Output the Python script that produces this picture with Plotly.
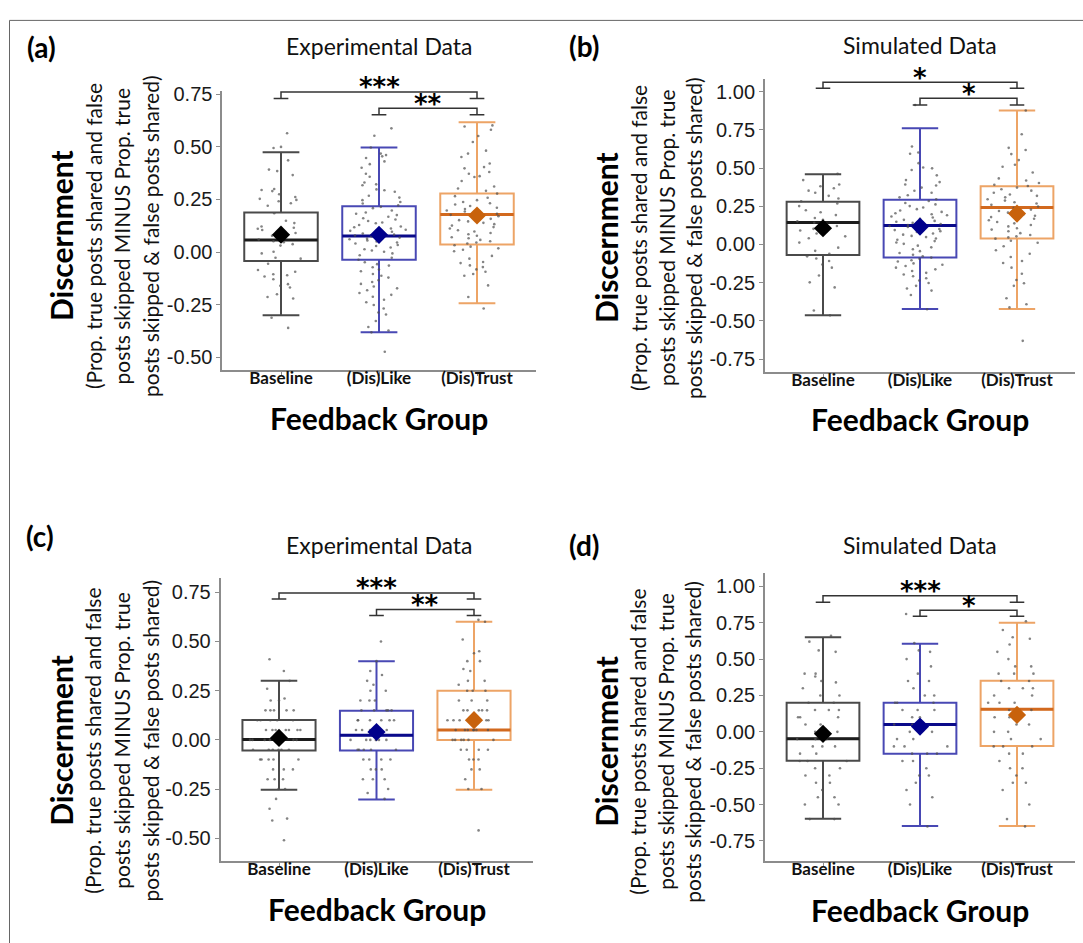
import plotly.graph_objects as go

W, H = 1083, 943

categories = ["Baseline", "(Dis)Like", "(Dis)Trust"]

# ---------------- Box statistics per panel (Baseline, (Dis)Like, (Dis)Trust) ----------------
a_q1 = [-0.042, -0.036, 0.036]
a_med = [0.058, 0.077, 0.179]
a_q3 = [0.188, 0.218, 0.278]
a_lo = [-0.300, -0.381, -0.243]
a_hi = [0.475, 0.497, 0.617]
a_mean = [0.083, 0.082, 0.174]

b_q1 = [-0.069, -0.085, 0.039]
b_med = [0.143, 0.124, 0.241]
b_q3 = [0.280, 0.293, 0.380]
b_lo = [-0.464, -0.423, -0.423]
b_hi = [0.460, 0.761, 0.876]
b_mean = [0.106, 0.117, 0.202]

c_q1 = [-0.054, -0.054, 0.000]
c_med = [0.002, 0.024, 0.050]
c_q3 = [0.101, 0.148, 0.250]
c_lo = [-0.253, -0.303, -0.253]
c_hi = [0.300, 0.400, 0.600]
c_mean = [0.010, 0.040, 0.100]

d_q1 = [-0.198, -0.150, -0.098]
d_med = [-0.048, 0.050, 0.155]
d_q3 = [0.200, 0.200, 0.352]
d_lo = [-0.598, -0.648, -0.648]
d_hi = [0.650, 0.605, 0.750]
d_mean = [-0.014, 0.036, 0.116]

# ---------------- Individual participant values (read approximately) ----------------
a_base = [0.565, 0.50, 0.495, 0.436, 0.392, 0.385, 0.366, 0.30, 0.295, 0.29, 0.275, 0.262, 0.253,
          0.248, 0.242, 0.232, 0.22, 0.185, 0.149, 0.138, 0.122, 0.116, 0.111, 0.105, 0.097, 0.091,
          0.078, 0.067, 0.06, 0.052, 0.047, 0.038, 0.031, 0.002, -0.006, -0.027, -0.031, -0.055,
          -0.085, -0.093, -0.105, -0.11, -0.116, -0.129, -0.152, -0.16, -0.168, -0.2, -0.213, -0.22,
          -0.312, -0.36]
a_like = [0.588, 0.553, 0.497, 0.468, 0.461, 0.455, 0.447, 0.431, 0.418, 0.401, 0.372, 0.358, 0.331,
          0.322, 0.318, 0.298, 0.294, 0.287, 0.268, 0.259, 0.247, 0.238, 0.231, 0.222, 0.215, 0.209,
          0.198, 0.188, 0.182, 0.176, 0.168, 0.161, 0.155, 0.148, 0.141, 0.137, 0.129, 0.122, 0.118,
          0.112, 0.106, 0.101, 0.097, 0.092, 0.088, 0.083, 0.079, 0.074, 0.069, 0.064, 0.061, 0.055,
          0.051, 0.046, 0.041, 0.034, 0.029, 0.022, 0.014, 0.008, 0.002, -0.006, -0.015, -0.027,
          -0.036, -0.048, -0.057, -0.064, -0.072, -0.083, -0.091, -0.104, -0.112, -0.121, -0.133,
          -0.142, -0.151, -0.163, -0.172, -0.181, -0.194, -0.203, -0.212, -0.226, -0.238, -0.251,
          -0.268, -0.287, -0.296, -0.327, -0.356, -0.372, -0.381, -0.473]
a_trust = [0.602, 0.597, 0.581, 0.552, 0.523, 0.482, 0.468, 0.452, 0.421, 0.404, 0.398, 0.381, 0.372,
           0.361, 0.357, 0.338, 0.312, 0.302, 0.291, 0.278, 0.266, 0.258, 0.247, 0.238, 0.232, 0.226,
           0.219, 0.211, 0.205, 0.198, 0.193, 0.188, 0.182, 0.177, 0.171, 0.166, 0.158, 0.152, 0.146,
           0.139, 0.133, 0.126, 0.119, 0.112, 0.104, 0.098, 0.091, 0.085, 0.078, 0.071, 0.066, 0.058,
           0.052, 0.046, 0.041, 0.033, 0.026, 0.018, 0.011, 0.004, -0.018, -0.031, -0.047, -0.052,
           -0.063, -0.071, -0.082, -0.093, -0.104, -0.112, -0.158, -0.213, -0.268]

b_base = [0.462, 0.421, 0.392, 0.381, 0.368, 0.352, 0.338, 0.318, 0.301, 0.283, 0.268, 0.251, 0.224,
          0.211, 0.192, 0.173, 0.162, 0.151, 0.142, 0.133, 0.121, 0.112, 0.102, 0.091, 0.072, 0.053,
          0.041, 0.012, -0.021, -0.042, -0.061, -0.078, -0.092, -0.108, -0.131, -0.152, -0.203,
          -0.248, -0.281, -0.432, -0.464]
b_like = [0.912, 0.641, 0.602, 0.593, 0.532, 0.503, 0.498, 0.487, 0.452, 0.421, 0.408, 0.392, 0.386,
          0.372, 0.351, 0.338, 0.322, 0.308, 0.296, 0.284, 0.271, 0.262, 0.251, 0.242, 0.231, 0.222,
          0.213, 0.204, 0.198, 0.191, 0.183, 0.176, 0.168, 0.161, 0.154, 0.148, 0.141, 0.134, 0.127,
          0.121, 0.114, 0.108, 0.101, 0.094, 0.087, 0.081, 0.072, 0.064, 0.056, 0.048, 0.039, 0.031,
          0.022, 0.013, 0.004, -0.008, -0.019, -0.031, -0.044, -0.056, -0.067, -0.078, -0.086,
          -0.094, -0.103, -0.112, -0.124, -0.133, -0.141, -0.152, -0.163, -0.174, -0.186, -0.197,
          -0.208, -0.221, -0.236, -0.252, -0.271, -0.288, -0.302, -0.331, -0.424]
b_trust = [0.876, 0.721, 0.632, 0.618, 0.591, 0.552, 0.521, 0.508, 0.471, 0.432, 0.418, 0.402, 0.391,
           0.382, 0.372, 0.361, 0.352, 0.338, 0.327, 0.318, 0.308, 0.296, 0.287, 0.276, 0.268, 0.259,
           0.248, 0.239, 0.228, 0.219, 0.208, 0.198, 0.188, 0.179, 0.168, 0.158, 0.147, 0.138, 0.127,
           0.118, 0.106, 0.097, 0.086, 0.074, 0.062, 0.053, 0.046, 0.038, 0.024, 0.011, -0.012,
           -0.038, -0.061, -0.082, -0.108, -0.121, -0.152, -0.192, -0.233, -0.254, -0.271, -0.352,
           -0.391, -0.412, -0.631]

c_base = [0.41, 0.35, 0.30, 0.26, 0.21, 0.20, 0.20, 0.15, 0.15, 0.15, 0.15, 0.15, 0.10, 0.10, 0.10,
          0.10, 0.10, 0.05, 0.05, 0.05, 0.05, 0.05, 0.05, 0.05, 0.0, 0.0, 0.0, 0.0, 0.0, 0.0, 0.0,
          0.0, -0.05, -0.05, -0.05, -0.05, -0.05, -0.05, -0.10, -0.10, -0.10, -0.10, -0.10, -0.15,
          -0.15, -0.15, -0.20, -0.20, -0.20, -0.25, -0.25, -0.30, -0.35, -0.40, -0.41, -0.51]
c_like = [0.50, 0.40, 0.35, 0.33, 0.30, 0.28, 0.25, 0.25, 0.20, 0.20, 0.20, 0.15, 0.15, 0.15, 0.15,
          0.15, 0.10, 0.10, 0.10, 0.10, 0.10, 0.10, 0.05, 0.05, 0.05, 0.05, 0.05, 0.0, 0.0, 0.0, 0.0,
          0.0, 0.0, 0.0, -0.05, -0.05, -0.05, -0.05, -0.05, -0.10, -0.10, -0.10, -0.10, -0.15, -0.15,
          -0.15, -0.20, -0.20, -0.20, -0.25, -0.27, -0.30]
c_trust = [0.61, 0.60, 0.51, 0.45, 0.44, 0.40, 0.40, 0.36, 0.35, 0.30, 0.30, 0.28, 0.25, 0.25, 0.25,
           0.20, 0.20, 0.20, 0.15, 0.15, 0.15, 0.15, 0.15, 0.10, 0.10, 0.10, 0.10, 0.10, 0.10, 0.05,
           0.05, 0.05, 0.05, 0.05, 0.05, 0.05, 0.0, 0.0, 0.0, 0.0, 0.0, 0.0, -0.05, -0.05, -0.05,
           -0.05, -0.10, -0.10, -0.10, -0.15, -0.15, -0.20, -0.25, -0.25, -0.46]

d_base = [0.66, 0.62, 0.56, 0.55, 0.40, 0.40, 0.38, 0.35, 0.34, 0.30, 0.25, 0.25, 0.20, 0.20, 0.15,
          0.15, 0.15, 0.10, 0.10, 0.10, 0.05, 0.05, 0.0, 0.0, -0.05, -0.05, -0.05, -0.05, -0.10,
          -0.10, -0.10, -0.15, -0.15, -0.20, -0.20, -0.20, -0.25, -0.25, -0.30, -0.30, -0.35, -0.35,
          -0.40, -0.45, -0.45, -0.50, -0.50, -0.60, -0.60]
d_like = [0.81, 0.61, 0.56, 0.55, 0.50, 0.45, 0.40, 0.35, 0.35, 0.30, 0.25, 0.25, 0.20, 0.20, 0.20,
          0.15, 0.15, 0.15, 0.10, 0.10, 0.05, 0.05, 0.05, 0.0, 0.0, 0.0, -0.05, -0.05, -0.10, -0.10,
          -0.10, -0.15, -0.15, -0.15, -0.20, -0.20, -0.25, -0.30, -0.30, -0.35, -0.40, -0.45, -0.50,
          -0.65]
d_trust = [0.76, 0.70, 0.65, 0.64, 0.60, 0.55, 0.50, 0.45, 0.45, 0.40, 0.40, 0.40, 0.35, 0.35, 0.30,
           0.30, 0.30, 0.25, 0.25, 0.20, 0.20, 0.20, 0.15, 0.15, 0.15, 0.10, 0.10, 0.10, 0.05, 0.05,
           0.0, 0.0, -0.05, -0.05, -0.10, -0.10, -0.10, -0.15, -0.15, -0.20, -0.25, -0.25, -0.30,
           -0.35, -0.35, -0.40, -0.50, -0.60, -0.65]

# ---------------- Significance brackets ----------------
bracket_pairs = [(0, 2), (1, 2)]
a_brk_y = [0.761, 0.683]
a_brk_tip = [0.730, 0.653]
a_brk_lab = ["***", "**"]
b_brk_y = [1.061, 0.957]
b_brk_tip = [1.022, 0.913]
b_brk_lab = ["*", "*"]
c_brk_y = [0.747, 0.662]
c_brk_tip = [0.716, 0.632]
c_brk_lab = ["***", "**"]
d_brk_y = [0.936, 0.836]
d_brk_tip = [0.891, 0.795]
d_brk_lab = ["***", "*"]

# ---------------- Axis ticks ----------------
a_yticks = [-0.50, -0.25, 0.00, 0.25, 0.50, 0.75]
b_yticks = [-0.75, -0.50, -0.25, 0.00, 0.25, 0.50, 0.75, 1.00]
c_yticks = [-0.50, -0.25, 0.00, 0.25, 0.50, 0.75]
d_yticks = [-0.75, -0.50, -0.25, 0.00, 0.25, 0.50, 0.75, 1.00]

titles = ["Experimental Data", "Simulated Data", "Experimental Data", "Simulated Data"]
letters = ["(a)", "(b)", "(c)", "(d)"]
ylab_main = "Discernment"
ylab_lines = ["(Prop. true posts shared and false",
              "posts skipped MINUS Prop. true",
              "posts skipped & false posts shared)"]
xlab = "Feedback Group"

# ---------------- Styles ----------------
box_colors = ["#4a4a4a", "#4848b4", "#eda466"]
median_colors = ["#1c1c1c", "#0a0a8a", "#d2691e"]
mean_colors = ["#000000", "#00008b", "#c8620c"]
point_color = "rgba(80,80,80,0.7)"
axis_color = "#8c8c8c"
CALIBRI = "Lato, 'Open Sans', sans-serif"
ARIAL = "'Liberation Sans', Arial, sans-serif"


def px(x):
    return x / W


def py(y):
    return 1 - y / H


panels = [
    dict(q1=a_q1, med=a_med, q3=a_q3, lo=a_lo, hi=a_hi, mean=a_mean, pts=[a_base, a_like, a_trust],
         by=a_brk_y, bt=a_brk_tip, bl=a_brk_lab, yticks=a_yticks, yrange=[-0.559, 0.765],
         dom_x=[222.2, 535.8], dom_y=[83.8, 364.9],
         letter=(41, 39), title=(379, 38), xlab=(379, 414), ylab_x=[61, 93, 121.5, 150], ylab_y=230),
    dict(q1=b_q1, med=b_med, q3=b_q3, lo=b_lo, hi=b_hi, mean=b_mean, pts=[b_base, b_like, b_trust],
         by=b_brk_y, bt=b_brk_tip, bl=b_brk_lab, yticks=b_yticks, yrange=[-0.832, 1.082],
         dom_x=[764.8, 1075.2], dom_y=[71.7, 366.7],
         letter=(584, 38), title=(920, 37), xlab=(920, 415), ylab_x=[606, 638, 666, 693], ylab_y=232),
    dict(q1=c_q1, med=c_med, q3=c_q3, lo=c_lo, hi=c_hi, mean=c_mean, pts=[c_base, c_like, c_trust],
         by=c_brk_y, bt=c_brk_tip, bl=c_brk_lab, yticks=c_yticks, yrange=[-0.614, 0.822],
         dom_x=[220.5, 532.5], dom_y=[575, 860],
         letter=(40, 533), title=(379, 542), xlab=(377, 909), ylab_x=[61, 93, 122, 150.7], ylab_y=739),
    dict(q1=d_q1, med=d_med, q3=d_q3, lo=d_lo, hi=d_hi, mean=d_mean, pts=[d_base, d_like, d_trust],
         by=d_brk_y, bt=d_brk_tip, bl=d_brk_lab, yticks=d_yticks, yrange=[-0.886, 1.091],
         dom_x=[764.8, 1075.2], dom_y=[570, 860],
         letter=(584, 542), title=(920, 542), xlab=(920, 910), ylab_x=[606, 638, 666, 693], ylab_y=740),
]

fig = go.Figure()
annotations = []
layout_axes = {}
positions = list(range(len(categories)))
CAP = 0.075

for k, p in enumerate(panels):
    sfx = "" if k == 0 else str(k + 1)
    xa, ya = "x" + sfx, "y" + sfx
    for g in range(3):
        # box with whiskers
        fig.add_trace(go.Box(
            x=[positions[g]], q1=[p["q1"][g]], median=[p["med"][g]], q3=[p["q3"][g]],
            lowerfence=[p["lo"][g]], upperfence=[p["hi"][g]],
            width=0.75, whiskerwidth=0.5, boxpoints=False,
            line=dict(color=box_colors[g], width=2), fillcolor="rgba(255,255,255,0)",
            xaxis=xa, yaxis=ya, showlegend=False, hoverinfo="skip"))
        # darker median line
        fig.add_trace(go.Box(
            x=[positions[g]], q1=[p["med"][g]], median=[p["med"][g]], q3=[p["med"][g]],
            lowerfence=[p["med"][g]], upperfence=[p["med"][g]],
            width=0.75, whiskerwidth=0, boxpoints=False,
            line=dict(color=median_colors[g], width=3), fillcolor="rgba(255,255,255,0)",
            xaxis=xa, yaxis=ya, showlegend=False, hoverinfo="skip"))
    for g in range(3):
        vals = p["pts"][g]
        fig.add_trace(go.Box(
            x=[positions[g]] * len(vals), y=vals, boxpoints="all", jitter=0.85, pointpos=0,
            width=0.75, line=dict(width=0, color="rgba(0,0,0,0)"), fillcolor="rgba(0,0,0,0)",
            marker=dict(size=2.6, color=point_color),
            xaxis=xa, yaxis=ya, showlegend=False, hoverinfo="y"))
    for g in range(3):
        fig.add_trace(go.Scatter(
            x=[positions[g]], y=[p["mean"][g]], mode="markers",
            marker=dict(symbol="diamond", size=14, color=mean_colors[g]),
            xaxis=xa, yaxis=ya, showlegend=False, cliponaxis=False))
    # brackets
    for (i, j), yb, yt, lab in zip(bracket_pairs, p["by"], p["bt"], p["bl"]):
        xs = [i - CAP, i + CAP, None, i, i, j, j, None, j - CAP, j + CAP]
        ys = [yt, yt, None, yt, yb, yb, yt, None, yt, yt]
        fig.add_trace(go.Scatter(x=xs, y=ys, mode="lines", line=dict(color="#333333", width=1.5),
                                 xaxis=xa, yaxis=ya, showlegend=False, cliponaxis=False,
                                 hoverinfo="skip"))
        annotations.append(dict(x=(i + j) / 2, y=yb, xref=xa, yref=ya, text=lab, showarrow=False,
                                yanchor="middle", yshift=11, height=17, valign="top",
                                font=dict(family="'DejaVu Sans'", size=26, color="#000000",
                                          weight="bold")))
    # axes
    layout_axes["xaxis" + sfx] = dict(
        domain=[px(p["dom_x"][0]), px(p["dom_x"][1])], range=[-0.6, 2.6], anchor=ya,
        tickvals=positions, ticktext=categories, showline=True, linecolor=axis_color, linewidth=1.5,
        ticks="outside", ticklen=4, tickcolor=axis_color, tickwidth=1.2, showgrid=False,
        zeroline=False, ticklabelstandoff=-12,
        tickfont=dict(family=CALIBRI, size=17, color="#111111", weight="bold"))
    layout_axes["yaxis" + sfx] = dict(
        domain=[py(p["dom_y"][1]), py(p["dom_y"][0])], range=p["yrange"], anchor=xa,
        tickvals=p["yticks"], ticktext=["%.2f" % v for v in p["yticks"]],
        showline=True, linecolor=axis_color, linewidth=1.5, ticks="outside", ticklen=4,
        tickcolor=axis_color, tickwidth=1.2, showgrid=False, zeroline=False,
        tickfont=dict(family=ARIAL, size=20, color="#1a1a1a"))
    # texts
    lx, ly = p["letter"]
    annotations.append(dict(x=px(lx), y=py(ly), xref="paper", yref="paper", text=letters[k],
                            showarrow=False, xanchor="center", yanchor="middle",
                            font=dict(family=CALIBRI, size=28, color="#000000", weight="bold")))
    tx, ty = p["title"]
    annotations.append(dict(x=px(tx), y=py(ty), xref="paper", yref="paper", text=titles[k],
                            showarrow=False, xanchor="center", yanchor="middle",
                            font=dict(family=CALIBRI, size=23, color="#111111")))
    fx, fy = p["xlab"]
    annotations.append(dict(x=px(fx), y=py(fy), xref="paper", yref="paper", text=xlab,
                            showarrow=False, xanchor="center", yanchor="middle",
                            font=dict(family=CALIBRI, size=30, color="#000000", weight="bold")))
    annotations.append(dict(x=px(p["ylab_x"][0]), y=py(p["ylab_y"]), xref="paper", yref="paper",
                            text=ylab_main, textangle=-90, showarrow=False, xanchor="center",
                            yanchor="middle",
                            font=dict(family=CALIBRI, size=30, color="#000000", weight="bold")))
    for li, line in enumerate(ylab_lines):
        annotations.append(dict(x=px(p["ylab_x"][li + 1]), y=py(p["ylab_y"]), xref="paper",
                                yref="paper", text=line, textangle=-90, showarrow=False,
                                xanchor="center", yanchor="middle",
                                font=dict(family=CALIBRI, size=21, color="#111111")))

fig.update_layout(
    width=W, height=H, margin=dict(l=0, r=0, t=0, b=0),
    paper_bgcolor="white", plot_bgcolor="white", boxmode="overlay",
    annotations=annotations,
    shapes=[dict(type="rect", xref="paper", yref="paper", x0=px(9.5), y0=-0.02, x1=1.02,
                 y1=py(12.5), line=dict(color="#666666", width=1), layer="below")],
    **layout_axes)

fig.write_html("out.html")
